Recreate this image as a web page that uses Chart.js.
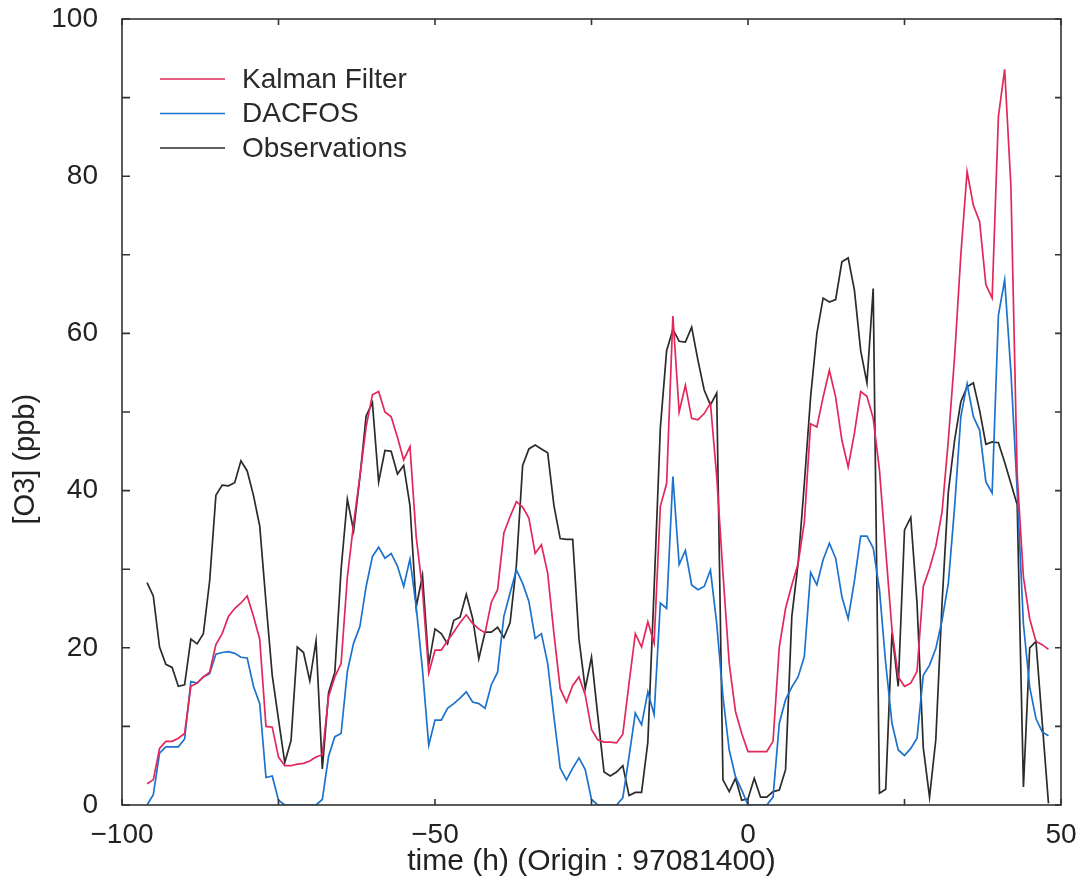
<!DOCTYPE html>
<html>
<head>
<meta charset="utf-8">
<script src="https://cdn.jsdelivr.net/npm/chart.js@4.4.1/dist/chart.umd.min.js"></script>
<style>
  body { margin: 0; background: #fff; }
  #wrap { width: 1089px; height: 882px; position: relative; }
</style>
</head>
<body>
<div id="wrap"><canvas id="o3-chart"></canvas></div>
<script>
// hourly time steps, -96 h .. +48 h
const hours = Array.from({ length: 145 }, (_, i) => -96 + i);

// Kalman Filter (ppb)
const kalman = [
  2.7, 3.2, 7.2, 8.1, 8.1, 8.5, 9.1, 15.1, 15.5, 16.3,
  16.9, 20.4, 21.8, 24.0, 25.0, 25.7, 26.6, 24.0, 21.1, 10.0,
  9.9, 6.1, 5.0, 5.0, 5.2, 5.3, 5.6, 6.1, 6.4, 13.8,
  16.3, 18.0, 29.0, 35.8, 41.8, 48.1, 52.2, 52.6, 50.0, 49.4,
  46.8, 43.9, 45.6, 34.1, 27.4, 16.8, 19.7, 19.7, 20.9, 22.0,
  23.2, 24.2, 23.1, 22.4, 21.9, 25.8, 27.4, 34.6, 36.7, 38.6,
  37.9, 36.5, 32.0, 33.1, 29.5, 21.8, 14.8, 13.1, 15.2, 16.3,
  14.0, 9.6, 8.3, 8.0, 8.0, 7.9, 9.0, 15.5, 21.8, 20.1,
  23.3, 20.6, 38.0, 40.9, 62.2, 50.0, 53.4, 49.2, 49.0, 49.8,
  51.1, 41.8, 29.5, 18.0, 11.9, 9.1,
  6.8, 6.8, 6.8, 6.8, 8.1, 20.1, 25.0, 28.0, 30.7, 36.0,
  48.5, 48.1, 51.9, 55.3, 51.9, 46.4, 43.0, 47.3, 52.6, 52.0,
  49.2, 42.6, 32.4, 22.3, 16.3, 15.1, 15.5, 17.0, 27.8, 30.1,
  32.9, 37.3, 46.4, 57.0, 70.0, 80.6, 76.3, 74.2, 66.2, 64.5,
  87.6, 93.6, 78.7, 42.0, 29.0, 23.7, 20.8, 20.4, 19.8
];

// DACFOS (ppb)
const dacfos = [
  0, 1.3, 6.6, 7.4, 7.4, 7.4, 8.4, 15.7, 15.5, 16.3,
  16.7, 19.2, 19.4, 19.5, 19.3, 18.8, 18.7, 15.1, 12.9, 3.5,
  3.7, 0.6, 0, 0, 0, 0, 0, 0, 0.7, 6.2,
  8.7, 9.1, 17.0, 20.6, 22.7, 27.8, 31.6, 32.8, 31.4, 32.0,
  30.4, 27.8, 31.3, 25.2, 17.2, 7.6, 10.8, 10.8, 12.3, 12.9,
  13.6, 14.4, 13.1, 12.9, 12.3, 15.3, 16.9, 24.0, 27.0, 29.9,
  28.2, 25.9, 21.2, 21.8, 18.0, 11.2, 4.7, 3.2, 4.7, 6.0,
  4.5, 0.7, 0, 0, 0, 0, 0.9, 6.2, 11.7, 10.2,
  14.4, 11.5, 25.7, 25.0, 41.8, 30.6, 32.4, 28.0, 27.4, 27.8,
  29.9, 23.1, 13.8, 7.0, 3.6, 1.9,
  0, 0, 0, 0, 1.0, 10.4, 13.4, 15.0, 16.3, 18.9,
  29.6, 28.0, 31.2, 33.3, 31.4, 26.5, 23.7, 28.5, 34.2, 34.2,
  32.7, 27.4, 18.0, 10.4, 7.0, 6.3, 7.2, 8.5, 16.5, 17.8,
  19.9, 23.5, 28.2, 37.9, 49.4, 53.6, 49.4, 47.7, 41.1, 39.7,
  62.3, 66.8, 55.1, 40.0, 23.0, 15.0, 11.0, 9.3, 8.8
];

// Observations (ppb)
const observations = [
  28.3, 26.6, 20.1, 17.9, 17.5, 15.1, 15.3, 21.1, 20.5, 21.8,
  28.5, 39.4, 40.7, 40.6, 41.0, 43.8, 42.5, 39.4, 35.5, 25.8,
  16.5, 10.9, 5.4, 8.2, 20.1, 19.4, 15.8, 20.9, 4.6, 14.3,
  16.9, 30.0, 38.9, 34.9, 41.7, 49.5, 51.2, 41.1, 45.1, 45.0,
  42.1, 43.2, 38.1, 25.2, 29.2, 17.9, 22.4, 21.8, 20.5, 23.5,
  23.9, 26.8, 23.8, 18.6, 22.0, 22.0, 22.6, 21.3, 23.2, 30.5,
  43.2, 45.3, 45.8, 45.3, 44.8, 38.1, 33.9, 33.8, 33.8, 21.1,
  14.8, 18.8, 11.4, 4.2, 3.7, 4.2, 5.0, 1.2, 1.6, 1.6,
  8.0, 27.5, 48.0, 57.8, 60.5, 59.0, 58.9, 60.8, 56.6, 52.8,
  50.9, 52.4, 3.2, 1.7, 3.4, 0.6,
  0.8, 3.4, 1.0, 1.0, 1.7, 1.9, 4.5, 24.0, 30.7, 40.9,
  51.9, 60.0, 64.5, 64.0, 64.3, 69.1, 69.6, 65.5, 57.8, 53.7,
  65.7, 1.5, 2.0, 21.9, 15.1, 35.0, 36.6, 25.7, 7.3, 1.0,
  8.3, 25.7, 39.8, 46.4, 51.3, 53.2, 53.7, 50.2, 45.9, 46.2,
  46.1, 43.6, 40.9, 38.2, 2.3, 20.0, 20.8, 10.5, 0.2
];

const seriesNames = ["Kalman Filter", "DACFOS", "Observations"];
const seriesColors = ["#e2285a", "#1c72cc", "#2b2b2b"];
const yTitle = "[O3] (ppb)";

const FONT = "'Liberation Sans', Arial, Helvetica, sans-serif";
const TEXT = "#222";

const toPoints = (vals) => hours.map((h, i) => ({ x: h, y: vals[i] }));

// box around the plot + inward tick marks + y axis title
const frameTicks = {
  id: "frameTicks",
  afterDatasetsDraw(chart) {
    const { ctx, chartArea: a } = chart;
    const x = chart.scales.x;
    const y = chart.scales.y;
    ctx.save();
    ctx.strokeStyle = "#333";
    ctx.lineWidth = 1.6;
    ctx.strokeRect(a.left, a.top, a.right - a.left, a.bottom - a.top);
    ctx.beginPath();
    y.ticks.forEach((t) => {
      const py = y.getPixelForValue(t.value);
      ctx.moveTo(a.left, py);
      ctx.lineTo(a.left + 8, py);
      ctx.moveTo(a.right, py);
      ctx.lineTo(a.right - 6, py);
    });
    x.ticks.forEach((t) => {
      const px = x.getPixelForValue(t.value);
      ctx.moveTo(px, a.bottom);
      ctx.lineTo(px, a.bottom - 6);
      ctx.moveTo(px, a.top);
      ctx.lineTo(px, a.top + 6);
    });
    ctx.stroke();

    // y title sits a little below the middle, like the original
    ctx.translate(26, y.getPixelForValue(44));
    ctx.rotate(-Math.PI / 2);
    ctx.font = "29px " + FONT;
    ctx.fillStyle = TEXT;
    ctx.textAlign = "center";
    ctx.textBaseline = "middle";
    ctx.fillText(yTitle, 0, 0);
    ctx.restore();
  },
};

// legend drawn in the upper left of the plot
const innerLegend = {
  id: "innerLegend",
  afterDraw(chart) {
    const { ctx, chartArea: a } = chart;
    ctx.save();
    ctx.font = "28px " + FONT;
    ctx.textBaseline = "middle";
    chart.data.datasets.forEach((ds, i) => {
      const yy = a.top + 60 + i * 34.5;
      ctx.strokeStyle = ds.borderColor;
      ctx.lineWidth = 1.6;
      ctx.beginPath();
      ctx.moveTo(a.left + 38, yy);
      ctx.lineTo(a.left + 103, yy);
      ctx.stroke();
      ctx.fillStyle = "#2a2a2a";
      ctx.fillText(ds.label, a.left + 120, yy + 1);
    });
    ctx.restore();
  },
};

const chartO3 = new Chart(document.getElementById("o3-chart").getContext("2d"), {
  type: "line",
  data: {
    datasets: [kalman, dacfos, observations].map((vals, i) => ({
      label: seriesNames[i],
      data: toPoints(vals),
      borderColor: seriesColors[i],
      backgroundColor: seriesColors[i],
      borderWidth: 1.7,
      pointRadius: 0,
      tension: 0,
      fill: false,
    })),
  },
  options: {
    responsive: true,
    maintainAspectRatio: false,
    animation: false,
    layout: { padding: { left: 0, right: 28, top: 19, bottom: 0 } },
    plugins: {
      legend: { display: false },
      tooltip: { enabled: false },
    },
    scales: {
      x: {
        type: "linear",
        min: -100,
        max: 50,
        grid: { display: false },
        border: { display: false },
        ticks: {
          stepSize: 25,
          padding: 5,
          color: TEXT,
          font: { family: FONT, size: 28 },
          maxRotation: 0,
          callback: (v) => (v % 50 === 0 ? String(v).replace("-", "\u2212") : ""),
        },
        title: {
          display: true,
          text: "time (h) (Origin : 97081400)",
          color: TEXT,
          font: { family: FONT, size: 30 },
          padding: { top: 0, bottom: 2 },
        },
        afterFit: (scale) => {
          scale.height = 77;
          scale.paddingLeft = 0;
          scale.paddingRight = 0;
        },
      },
      y: {
        min: 0,
        max: 100,
        grid: { display: false },
        border: { display: false },
        ticks: {
          stepSize: 10,
          padding: 16,
          color: TEXT,
          font: { family: FONT, size: 28 },
          callback: (v) => (v % 20 === 0 ? v : ""),
        },
        afterFit: (scale) => {
          scale.width = 122;
          scale.paddingTop = 0;
          scale.paddingBottom = 0;
        },
      },
    },
  },
  plugins: [frameTicks, innerLegend],
});
</script>
</body>
</html>
